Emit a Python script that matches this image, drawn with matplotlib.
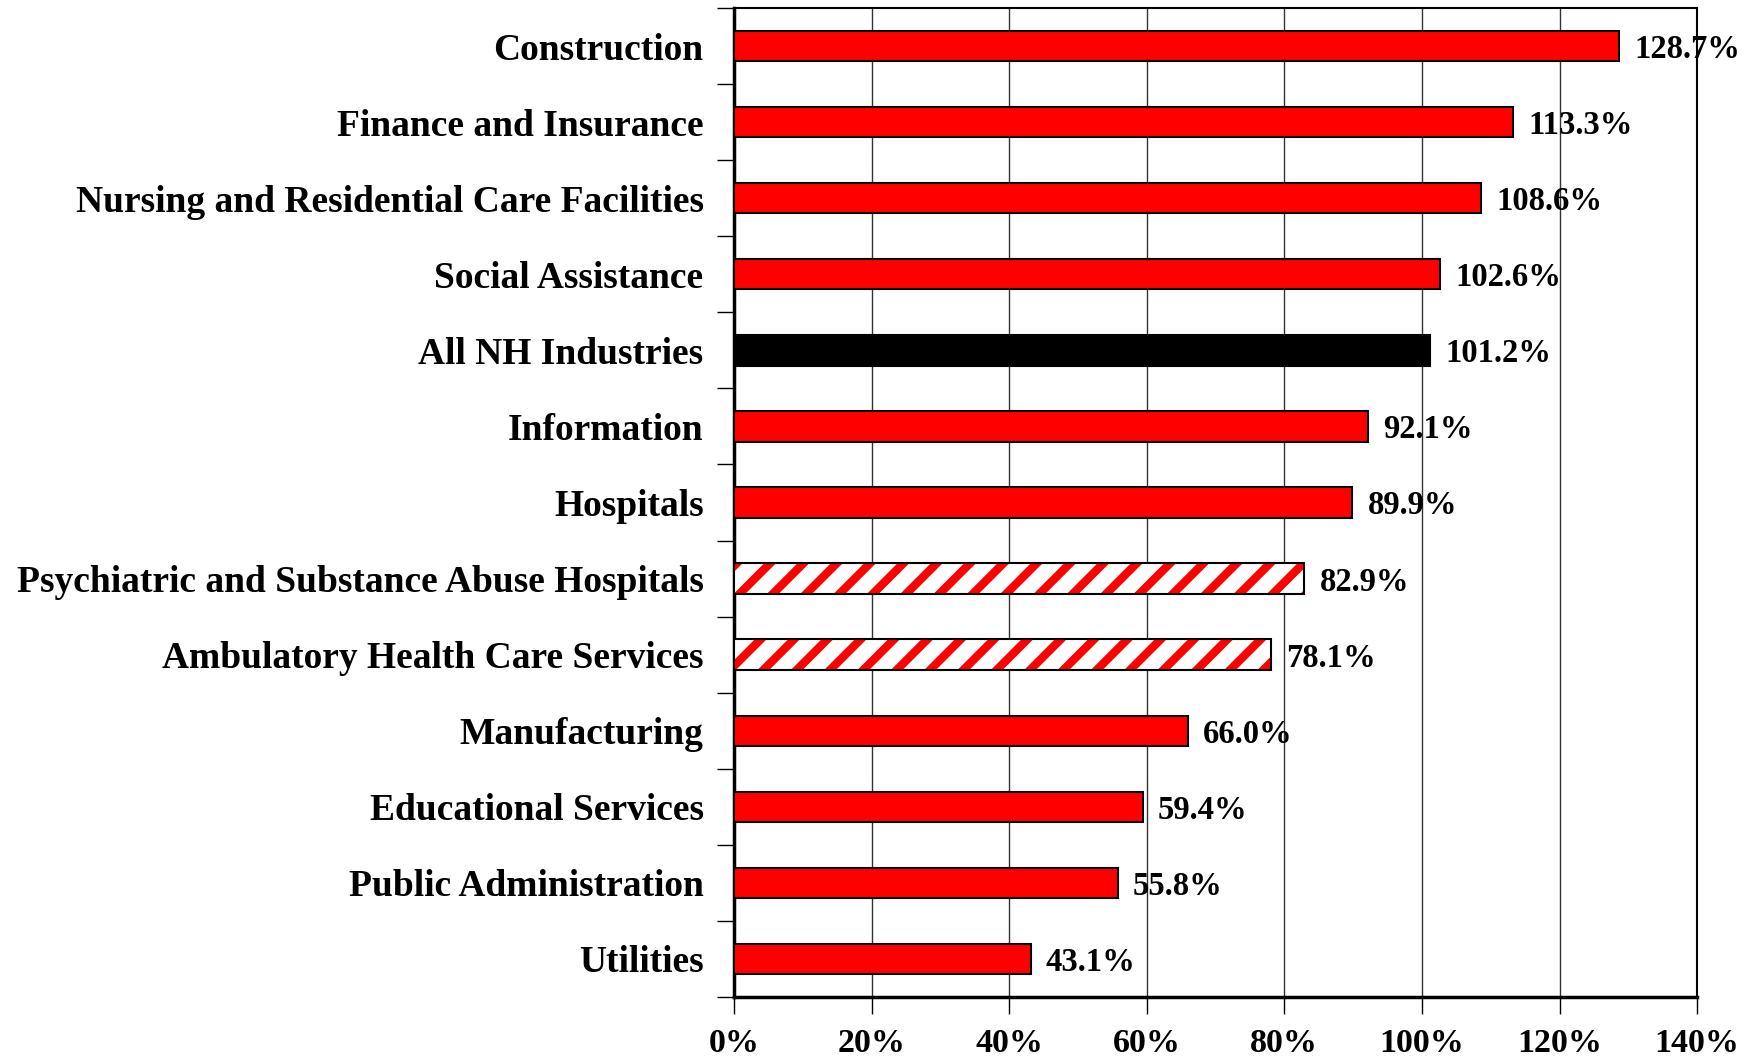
import numpy as np
import matplotlib
matplotlib.use('Agg')
import matplotlib.pyplot as plt

plt.rcParams['font.family'] = ['Liberation Serif', 'DejaVu Serif']
plt.rcParams['font.weight'] = 'bold'
plt.rcParams['hatch.linewidth'] = 6

industries = ['Construction', 'Finance and Insurance', 'Nursing and Residential Care Facilities',
              'Social Assistance', 'All NH Industries', 'Information', 'Hospitals',
              'Psychiatric and Substance Abuse Hospitals', 'Ambulatory Health Care Services',
              'Manufacturing', 'Educational Services', 'Public Administration', 'Utilities']
growth = [128.7, 113.3, 108.6, 102.6, 101.2, 92.1, 89.9, 82.9, 78.1, 66.0, 59.4, 55.8, 43.1]
hatched = ['Psychiatric and Substance Abuse Hospitals', 'Ambulatory Health Care Services']
xticks = [0, 20, 40, 60, 80, 100, 120, 140]

fig = plt.figure(figsize=(17.57, 10.56), dpi=100)
ax = fig.add_axes([0.4178, 0.0559, 0.5481, 0.9365])

n = len(industries)
ypos = np.arange(n)[::-1]
for i in range(n):
    if industries[i] == 'All NH Industries':
        ax.barh(ypos[i], growth[i], height=0.4, color='black', edgecolor='black', linewidth=1.5, zorder=3)
    elif industries[i] in hatched:
        # hatch takes the edge colour, so draw the red stripes first, then a black outline
        ax.barh(ypos[i], growth[i], height=0.4, color='white', edgecolor='#FF0000', hatch='/', linewidth=0, zorder=3)
        ax.barh(ypos[i], growth[i], height=0.4, color='none', edgecolor='black', linewidth=1.5, zorder=4)
    else:
        ax.barh(ypos[i], growth[i], height=0.4, color='#FF0000', edgecolor='black', linewidth=1.5, zorder=3)
    ax.text(growth[i] + 2.2, ypos[i], '%.1f%%' % growth[i], va='center_baseline', ha='left',
            fontsize=23.5, fontweight='bold', zorder=5)

ax.set_xlim(0, 140)
ax.set_ylim(-0.5, n - 0.5)
ax.set_xticks(xticks)
ax.set_xticklabels(['%d%%' % v for v in xticks], fontsize=24.5, fontweight='bold')
ax.set_yticks(ypos)
ax.set_yticklabels(industries, fontsize=27, fontweight='bold')
ax.set_yticks(np.arange(-0.5, n, 1.0), minor=True)
ax.tick_params(axis='y', which='major', length=0, pad=22)
ax.tick_params(axis='y', which='minor', length=12, width=1, direction='out')
ax.tick_params(axis='x', length=12, width=1, direction='out', pad=10)
ax.xaxis.grid(True, color='#333333', linewidth=1, zorder=0)
ax.set_axisbelow(True)
for s in ax.spines.values():
    s.set_linewidth(1.5)
ax.spines['left'].set_linewidth(2.5)
ax.spines['bottom'].set_linewidth(2.5)

fig.savefig('out.png', dpi=100)
